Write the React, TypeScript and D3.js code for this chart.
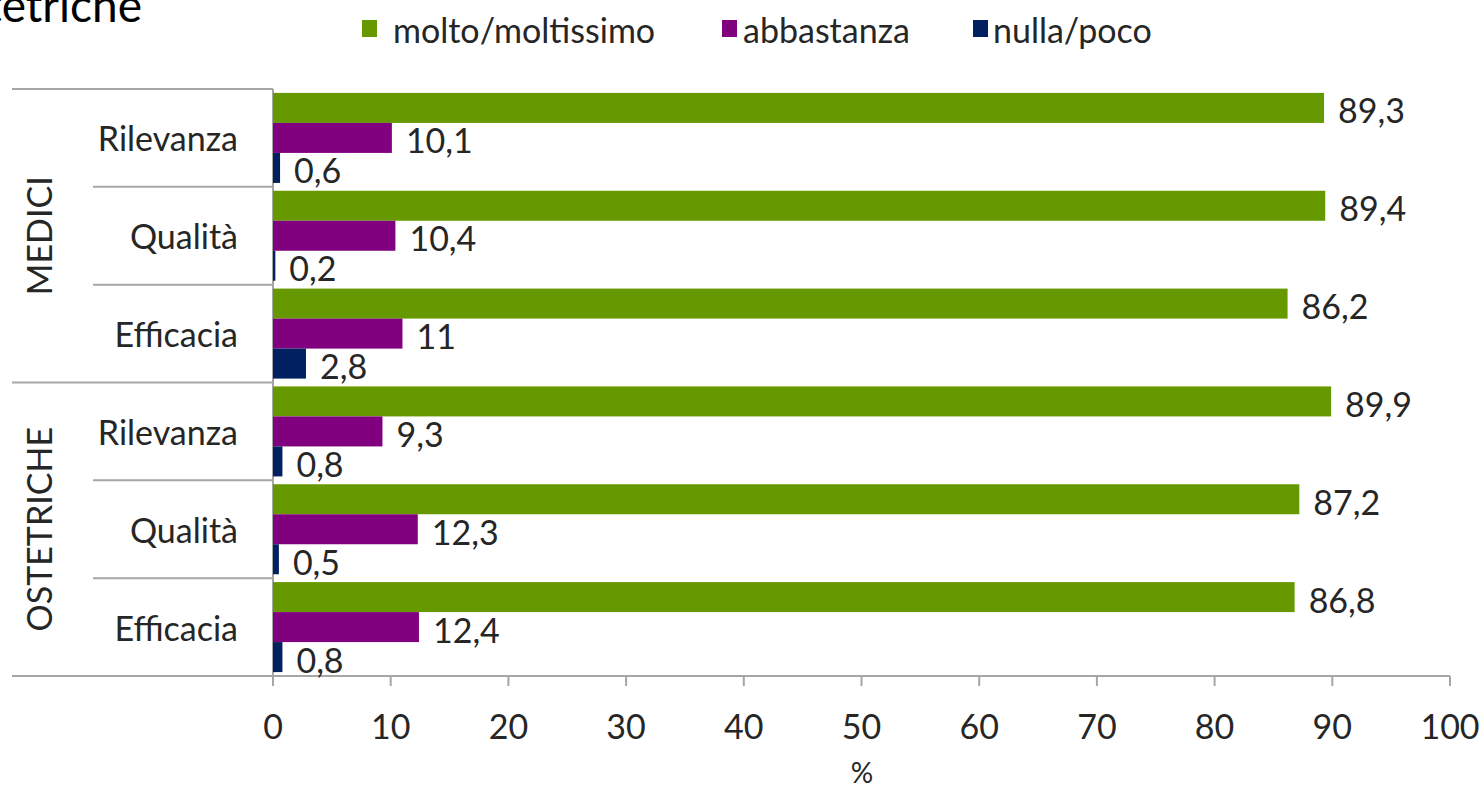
import React from "react";
import * as d3 from "d3";

const groups = ["MEDICI", "OSTETRICHE"];
const aspects = ["Rilevanza", "Qualità", "Efficacia"];
const seriesNames = ["molto/moltissimo", "abbastanza", "nulla/poco"];
const seriesColors = ["#669900", "#800080", "#002060"];
const molto = [89.3, 89.4, 86.2, 89.9, 87.2, 86.8];
const abbastanza = [10.1, 10.4, 11, 9.3, 12.3, 12.4];
const nulla = [0.6, 0.2, 2.8, 0.8, 0.5, 0.8];
const xTicks = [0, 10, 20, 30, 40, 50, 60, 70, 80, 90, 100];

const W = 1483;
const H = 788;
const FONT = "Lato, 'Open Sans', sans-serif";
const TXT = "#262626";
const LINE = "#a6a6a6";
const FS = 34;

export default function App() {
  const left = 273;
  const right = 1450;
  const top = 89;
  const bottom = 676;
  const cats = groups.flatMap((g) => aspects.map((a) => `${g}|${a}`));
  const values = [molto, abbastanza, nulla];

  const x = d3.scaleLinear().domain([0, 100]).range([left, right]);
  const y = d3
    .scaleBand<string>()
    .domain(cats)
    .range([top, bottom])
    .paddingInner(0.08)
    .paddingOuter(0.04);
  const inner = d3
    .scaleBand<string>()
    .domain(seriesNames)
    .range([0, y.bandwidth()])
    .padding(0);
  const step = y.step();
  const fmt = (v: number) => String(v).replace(".", ",");

  const legendItems = [
    { x: 362, tx: 393 },
    { x: 722, tx: 743 },
    { x: 973, tx: 993 },
  ];

  return (
    <svg
      width={W}
      height={H}
      style={{ position: "absolute", left: 0, top: 0, background: "#fff" }}
      fontFamily={FONT}
    >
      <text x={142} y={22} fontSize={46} textAnchor="end" fill="#000">
        ostetriche
      </text>

      {seriesNames.map((s, i) => (
        <g key={s}>
          <rect x={legendItems[i].x} y={20} width={15} height={17} fill={seriesColors[i]} />
          <text x={legendItems[i].tx} y={29} fontSize={FS} dominantBaseline="central" fill={TXT}>
            {s}
          </text>
        </g>
      ))}

      {d3.range(cats.length + 1).map((i) => {
        const yy = top + i * step;
        const x0 = i % 3 === 0 ? 12 : 93;
        return <line key={i} x1={x0} x2={left} y1={yy} y2={yy} stroke={LINE} strokeWidth={2} />;
      })}
      <line x1={left} x2={right} y1={bottom} y2={bottom} stroke={LINE} strokeWidth={2} />
      <line x1={left} x2={left} y1={top} y2={bottom} stroke={LINE} strokeWidth={2} />
      {xTicks.map((t) => (
        <g key={t}>
          <line x1={x(t)} x2={x(t)} y1={bottom} y2={bottom + 10} stroke={LINE} strokeWidth={2} />
          <text x={x(t)} y={725} fontSize={FS} textAnchor="middle" dominantBaseline="central" fill={TXT}>
            {t}
          </text>
        </g>
      ))}
      <text x={862} y={772} fontSize={28} textAnchor="middle" dominantBaseline="central" fill={TXT}>
        %
      </text>

      {cats.map((c, ci) => (
        <g key={c}>
          {seriesNames.map((s, si) => {
            const v = values[si][ci];
            const by = (y(c) as number) + (inner(s) as number);
            const bh = inner.bandwidth();
            return (
              <g key={s}>
                <rect x={x(0)} y={by} width={x(v) - x(0)} height={bh} fill={seriesColors[si]} />
                <text
                  x={x(v) + 14}
                  y={by + bh / 2 + 2}
                  fontSize={FS}
                  dominantBaseline="central"
                  fill={TXT}
                >
                  {fmt(v)}
                </text>
              </g>
            );
          })}
          <text
            x={238}
            y={(y(c) as number) + y.bandwidth() / 2}
            fontSize={FS}
            textAnchor="end"
            dominantBaseline="central"
            fill={TXT}
          >
            {c.split("|")[1]}
          </text>
        </g>
      ))}

      {groups.map((g, gi) => {
        const cy = top + step * (gi * 3 + 1.5);
        return (
          <text
            key={g}
            transform={`translate(38,${cy}) rotate(-90)`}
            fontSize={FS}
            textAnchor="middle"
            dominantBaseline="central"
            fill={TXT}
          >
            {g}
          </text>
        );
      })}
    </svg>
  );
}
